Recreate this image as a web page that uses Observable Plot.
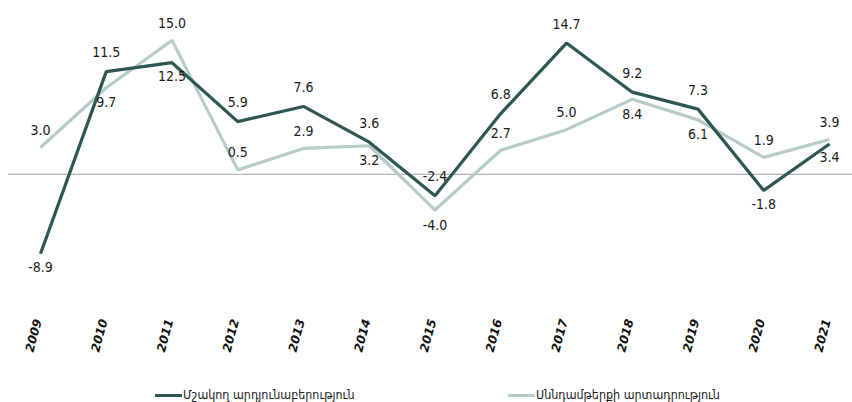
<!DOCTYPE html>
<html><head><meta charset="utf-8">
<script src="https://cdn.jsdelivr.net/npm/d3@7"></script>
<script src="https://cdn.jsdelivr.net/npm/@observablehq/plot@0.6"></script>
<style>
body{margin:0;background:#fff;font-family:"DejaVu Sans Condensed","DejaVu Sans",sans-serif;}
#legend{position:relative;height:30px;width:852px;font-size:12.4px;color:#1a1a1a;}
.item{position:absolute;top:16px;height:14px;line-height:14px;display:flex;align-items:center;white-space:nowrap;}
.sw{display:inline-block;width:27px;height:3px;margin-right:1px;}
</style></head><body>
<div id="chart"></div>
<div id="legend"></div>
<script>
const years = [2009,2010,2011,2012,2013,2014,2015,2016,2017,2018,2019,2020,2021];
const manufacturing = [-8.9,11.5,12.5,5.9,7.6,3.6,-2.4,6.8,14.7,9.2,7.3,-1.8,3.4];
const food = [3.0,9.7,15.0,0.5,2.9,3.2,-4.0,2.7,5.0,8.4,6.1,1.9,3.9];
const seriesNames = ["Մշակող արդյունաբերություն","Սննդամթերքի արտադրություն"];
const colors = ["#2f5751","#b7ccc3"];
// label placement rule: years where the value label sits below the line point
const belowManufacturing = [2009, 2011, 2020, 2021];
const belowFood = [2010, 2014, 2015, 2018, 2019];

const data = years.map((year, i) => ({year, manufacturing: manufacturing[i], food: food[i]}));
const numFont = {fontFamily: "'DejaVu Sans Condensed','DejaVu Sans',sans-serif", fontSize: 14, fill: "#1a1a1a"};

const chart = Plot.plot({
  width: 852, height: 372,
  marginLeft: 8, marginRight: 0, marginTop: 22, marginBottom: 91,
  x: {domain: [2009, 2021], insetLeft: 32, insetRight: 23, axis: null},
  y: {domain: [-12, 17], axis: null},
  style: {background: "#fff", overflow: "visible"},
  marks: [
    Plot.ruleY([0], {stroke: "#b3b3b3", strokeWidth: 1.3}),
    Plot.line(data, {x: "year", y: "food", stroke: colors[1], strokeWidth: 3.2, strokeLinejoin: "miter", strokeLinecap: "butt"}),
    Plot.line(data, {x: "year", y: "manufacturing", stroke: colors[0], strokeWidth: 3.2, strokeLinejoin: "miter", strokeLinecap: "butt"}),
    Plot.text(data, {filter: d => !belowManufacturing.includes(d.year), x: "year", y: "manufacturing", text: d => d.manufacturing.toFixed(1), dy: -19, ...numFont}),
    Plot.text(data, {filter: d => belowManufacturing.includes(d.year), x: "year", y: "manufacturing", text: d => d.manufacturing.toFixed(1), dy: 14, ...numFont}),
    Plot.text(data, {filter: d => !belowFood.includes(d.year), x: "year", y: "food", text: d => d.food.toFixed(1), dy: -17, ...numFont}),
    Plot.text(data, {filter: d => belowFood.includes(d.year), x: "year", y: "food", text: d => d.food.toFixed(1), dy: 15, ...numFont}),
    Plot.text(years, {x: d => d, text: d => String(d), frameAnchor: "bottom", rotate: -75, dy: 55, dx: -3,
      fontFamily: "'DejaVu Sans','Liberation Sans',sans-serif", fontWeight: "bold", fontStyle: "italic", fontSize: 12, fill: "#111"})
  ]
});
document.getElementById("chart").appendChild(chart);

const legend = document.getElementById("legend");
const lefts = [155, 508];
seriesNames.forEach((name, i) => {
  const it = document.createElement("div");
  it.className = "item";
  it.style.left = lefts[i] + "px";
  const sw = document.createElement("span");
  sw.className = "sw";
  sw.style.background = colors[i];
  it.appendChild(sw);
  it.appendChild(document.createTextNode(name));
  legend.appendChild(it);
});
</script>
</body></html>
